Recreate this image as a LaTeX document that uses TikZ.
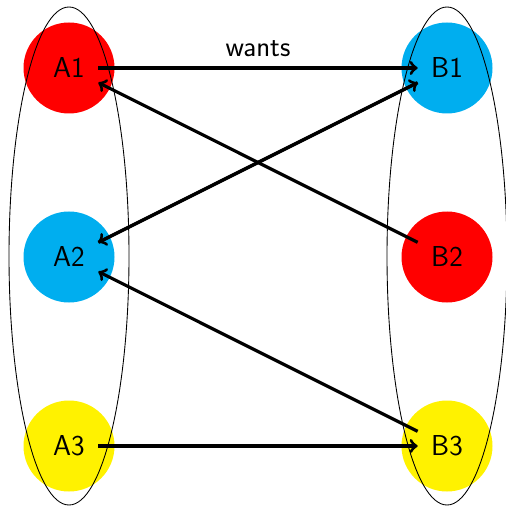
\documentclass[tikz,border=0pt]{standalone}
\usetikzlibrary{shapes.geometric}
\begin{document}
\begin{tikzpicture}[x=0.02cm,y=-0.02cm,
  lbl/.style={font=\fontsize{16.4}{20}\selectfont\sffamily,inner sep=7.5pt},
  blob/.style={circle,minimum size=91*0.02cm,inner sep=0pt},
  arr/.style={->,line width=1.8pt},
  grp/.style={draw,line width=0.5pt}]
\definecolor{cred}{HTML}{FF0000}
\definecolor{ccyan}{HTML}{00AEEF}
\definecolor{cyel}{HTML}{FFF200}
\useasboundingbox (0,0) rectangle (505,506);
\node[blob,fill=cred] (ca1) at (69,68) {};
\node[blob,fill=ccyan] (ca2) at (69,257) {};
\node[blob,fill=cyel] (ca3) at (69,446) {};
\node[blob,fill=ccyan] (cb1) at (447,68) {};
\node[blob,fill=cred] (cb2) at (447,257) {};
\node[blob,fill=cyel] (cb3) at (447,446) {};
\node[grp,ellipse,minimum width=120*0.02cm,minimum height=498*0.02cm,inner sep=0pt] (gl) at (69,256) {};
\node[grp,ellipse,minimum width=120*0.02cm,minimum height=498*0.02cm,inner sep=0pt] (gr) at (447,256) {};
\node[lbl] (a1) at (69,68) {A1};
\node[lbl] (a2) at (69,257) {A2};
\node[lbl] (a3) at (69,446) {A3};
\node[lbl] (b1) at (447,68) {B1};
\node[lbl] (b2) at (447,257) {B2};
\node[lbl] (b3) at (447,446) {B3};
\draw[arr] (a1) -- node[lbl,midway,above,inner sep=2pt,yshift=3.5pt] {wants} (b1);
\draw[arr] (b2) -- (a1);
\draw[arr] (a2) -- (b1);
\draw[arr] (b1) -- (a2);
\draw[arr] (b3) -- (a2);
\draw[arr] (a3) -- (b3);
\end{tikzpicture}
\end{document}
